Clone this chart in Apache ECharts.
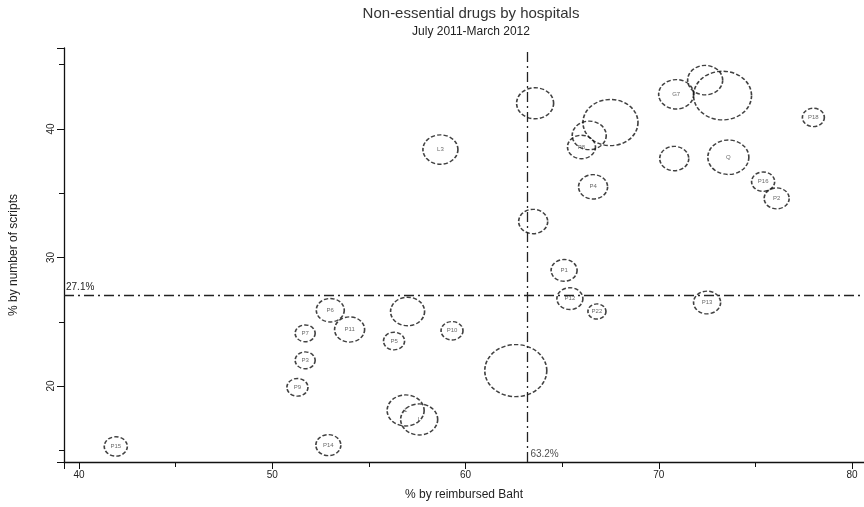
<!DOCTYPE html>
<html>
<head>
<meta charset="utf-8">
<script src="https://cdn.jsdelivr.net/npm/echarts@6/dist/echarts.min.js"></script>
<style>
    html, body { margin: 0; padding: 0; background: #fff; }
</style>
</head>
<body>
<div id="main" style="width: 864px;height:507px;"></div>
<script type="text/javascript">
    // 医院标签（扫描件上几乎看不清，按可辨认部分填写）
    var hospitals = ['P15', 'P14', 'P9', 'P3', 'P7', 'P6', 'P11', '', 'P5', 'P10',
        '', '1', 'L', 'P12', 'P22', 'P13', 'P1', '', '', 'L3',
        'P4', '', '', 'P8', 'G7', '', '', '', 'Q', 'P16',
        'P2', 'P18'];
    // % by reimbursed Baht
    var reimbursed = [41.9, 52.9, 51.3, 51.7, 51.7, 53.0, 54.0, 57.0, 56.3, 59.3,
        62.6, 56.9, 57.6, 65.4, 66.8, 72.5, 65.1, 63.5, 63.6, 58.7,
        66.6, 67.5, 66.4, 66.0, 70.9, 72.4, 73.3, 70.8, 73.6, 75.4,
        76.1, 78.0];
    // % by number of scripts
    var scripts = [15.3, 15.4, 19.9, 22.0, 24.1, 25.9, 24.4, 25.8, 23.5, 24.3,
        21.2, 18.1, 17.4, 26.8, 25.8, 26.5, 29.0, 32.8, 42.0, 38.4,
        35.5, 40.5, 39.5, 38.6, 42.7, 43.8, 42.6, 37.7, 37.8, 35.9,
        34.6, 40.9];
    // 气泡大小
    var volume = [85, 100, 71, 64, 64, 125, 144, 185, 71, 77,
        615, 219, 219, 108, 52, 117, 108, 135, 219, 196,
        135, 484, 185, 125, 196, 196, 538, 135, 269, 85,
        100, 77];

    var meanX = 63.2;
    var meanY = 27.1;

    var bubbles = hospitals.map(function (name, i) {
        return [reimbursed[i], scripts[i], volume[i], name];
    });

    var myChart = echarts.init(document.getElementById('main'));

    var option = {
        animation: false,
        backgroundColor: '#fff',
        title: {
            text: 'Non-essential drugs by hospitals',
            subtext: 'July 2011-March 2012',
            left: 466,
            top: 1,
            textAlign: 'center',
            itemGap: 5,
            textStyle: {
                fontFamily: 'Liberation Sans',
                fontSize: 15,
                fontWeight: 'normal',
                color: '#333'
            },
            subtextStyle: {
                fontFamily: 'Liberation Sans',
                fontSize: 12,
                color: '#222'
            }
        },
        grid: {
            left: 63,
            right: 0,
            top: 48,
            bottom: 45
        },
        xAxis: {
            type: 'value',
            min: 39.22,
            max: 80.62,
            splitNumber: 4,
            name: '% by reimbursed Baht',
            nameLocation: 'middle',
            nameGap: 27,
            nameTextStyle: {fontFamily: 'Liberation Sans', fontSize: 12, color: '#222'},
            axisLine: {lineStyle: {color: '#111', width: 1.3}},
            axisTick: {length: 7, lineStyle: {color: '#111'}},
            minorTick: {show: true, splitNumber: 2, length: 5, lineStyle: {color: '#111'}},
            axisLabel: {
                showMinLabel: false,
                showMaxLabel: false,
                fontFamily: 'Liberation Sans',
                fontSize: 10,
                color: '#222'
            },
            splitLine: {show: false}
        },
        yAxis: {
            type: 'value',
            min: 14.09,
            max: 46.3,
            splitNumber: 3,
            name: '% by number of scripts',
            nameLocation: 'middle',
            nameGap: 44,
            nameTextStyle: {fontFamily: 'Liberation Sans', fontSize: 12, color: '#222'},
            axisLine: {lineStyle: {color: '#111', width: 1.3}},
            axisTick: {length: 7, lineStyle: {color: '#111'}},
            minorTick: {show: true, splitNumber: 2, length: 5, lineStyle: {color: '#111'}},
            axisLabel: {
                showMinLabel: false,
                showMaxLabel: false,
                rotate: 90,
                fontFamily: 'Liberation Sans',
                fontSize: 10,
                color: '#222'
            },
            splitLine: {show: false}
        },
        series: [
            {
                name: 'hospitals',
                type: 'scatter',
                data: bubbles,
                symbolSize: function (val) {
                    var w = Math.sqrt(val[2]) * 2.5;
                    return [w, w * 0.84];
                },
                itemStyle: {
                    color: 'rgba(255,255,255,0)',
                    borderColor: '#111',
                    borderWidth: 1.5,
                    borderType: [4, 2]
                },
                label: {
                    show: true,
                    position: 'inside',
                    formatter: function (p) { return p.data[3]; },
                    fontFamily: 'Liberation Sans',
                    fontSize: 6,
                    color: '#444'
                },
                markLine: {
                    silent: true,
                    symbol: 'none',
                    lineStyle: {color: '#222', width: 1.3, type: [10, 4, 2, 4]},
                    label: {
                        position: 'insideStartTop',
                        fontFamily: 'Liberation Sans',
                        fontSize: 10,
                        color: '#222',
                        distance: [2, 3]
                    },
                    data: [
                        {yAxis: meanY, label: {formatter: meanY + '%'}},
                        {xAxis: meanX, label: {show: false}}
                    ]
                }
            },
            {
                name: 'meanLabel',
                type: 'scatter',
                symbolSize: 0,
                silent: true,
                data: [[meanX, 14.7]],
                label: {
                    show: true,
                    position: 'right',
                    distance: 3,
                    formatter: meanX + '%',
                    fontFamily: 'Liberation Sans',
                    fontSize: 10,
                    color: '#222'
                }
            }
        ]
    };

    myChart.setOption(option);
</script>
</body>
</html>
